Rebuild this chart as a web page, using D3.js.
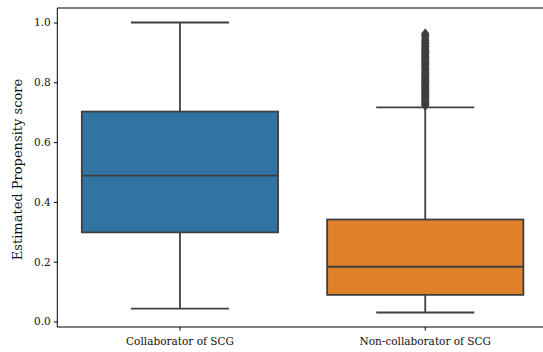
<!DOCTYPE html>
<html>
<head>
<meta charset="utf-8">
<script src="https://cdn.jsdelivr.net/npm/d3@7"></script>
<style>
  html, body { margin: 0; padding: 0; background: #fff; }
  svg { display: block; }
  text { font-family: "DejaVu Serif", "Liberation Serif", serif; fill: #111; }
</style>
</head>
<body>
<svg id="chart" width="543" height="352"></svg>
<script>
// Box summaries per group (estimated propensity score)
const categories = ["Collaborator of SCG", "Non-collaborator of SCG"];
const q1 = [0.298, 0.089];
const medians = [0.488, 0.183];
const q3 = [0.702, 0.341];
const whiskerLow = [0.043, 0.030];
const whiskerHigh = [1.000, 0.716];
const colors = ["#3274a1", "#e1812c"];

// Points beyond the upper whisker for the non-collaborator group
const outliersNonCollab = [
  0.722, 0.726, 0.729, 0.733, 0.737, 0.741, 0.744, 0.748, 0.752, 0.755,
  0.759, 0.762, 0.766, 0.770, 0.773, 0.777, 0.781, 0.784, 0.788, 0.792,
  0.795, 0.799, 0.803, 0.806, 0.810, 0.814, 0.818, 0.821, 0.825, 0.829,
  0.833, 0.838, 0.842, 0.847, 0.851, 0.855, 0.859, 0.863, 0.867, 0.871,
  0.875, 0.879, 0.883, 0.887, 0.891, 0.895, 0.899, 0.903, 0.907, 0.911,
  0.915, 0.919, 0.924, 0.929, 0.934, 0.940, 0.946, 0.953, 0.958, 0.963
];

const yTicks = [0.0, 0.2, 0.4, 0.6, 0.8, 1.0];
const yLabel = "Estimated Propensity score";

const svg = d3.select("#chart");
const plotLeft = 57.3, plotTop = 8, plotBottom = 327, plotRight = 547.9;
const lineColor = "#3f3f3f";

const x = d3.scaleBand().domain(categories).range([plotLeft, plotRight])
  .paddingInner(0.2).paddingOuter(0.1);
const y = d3.scaleLinear().domain([-0.0185, 1.0485]).range([plotBottom, plotTop]);

// Frame: left, top and bottom spines (right spine falls outside the canvas)
const spine = svg.append("g").attr("stroke", "#000").attr("stroke-width", 1).attr("fill", "none");
spine.append("line").attr("x1", plotLeft).attr("x2", plotLeft).attr("y1", plotTop).attr("y2", plotBottom);
spine.append("line").attr("x1", plotLeft).attr("x2", 543).attr("y1", plotTop).attr("y2", plotTop);
spine.append("line").attr("x1", plotLeft).attr("x2", 543).attr("y1", plotBottom).attr("y2", plotBottom);

// Y axis
const yAxis = svg.append("g").attr("transform", `translate(${plotLeft},0)`)
  .call(d3.axisLeft(y).tickValues(yTicks).tickFormat(d3.format(".1f")).tickSize(3.5).tickPadding(3));
yAxis.select(".domain").remove();
yAxis.selectAll(".tick line").attr("stroke", "#000").attr("stroke-width", 1);
yAxis.selectAll(".tick text").attr("font-family", "DejaVu Serif").attr("font-size", 10.5).attr("fill", "#111");

// X axis
const xAxis = svg.append("g").attr("transform", `translate(0,${plotBottom})`)
  .call(d3.axisBottom(x).tickSize(3.5).tickPadding(7));
xAxis.select(".domain").remove();
xAxis.selectAll(".tick line").attr("stroke", "#000").attr("stroke-width", 1);
xAxis.selectAll(".tick text").attr("font-family", "DejaVu Serif").attr("font-size", 10.5).attr("fill", "#111");

// Y axis title
svg.append("text")
  .attr("transform", `translate(22,${(plotTop + plotBottom) / 2 + 2}) rotate(-90)`)
  .attr("text-anchor", "middle")
  .attr("font-size", 13)
  .text(yLabel);

// Boxes
const bw = x.bandwidth();
categories.forEach((c, i) => {
  const cx = x(c) + bw / 2;
  const g = svg.append("g").attr("stroke", lineColor).attr("stroke-width", 1.8);
  // whiskers
  g.append("line").attr("x1", cx).attr("x2", cx).attr("y1", y(q3[i])).attr("y2", y(whiskerHigh[i]));
  g.append("line").attr("x1", cx).attr("x2", cx).attr("y1", y(q1[i])).attr("y2", y(whiskerLow[i]));
  // caps
  g.append("line").attr("x1", cx - bw / 4).attr("x2", cx + bw / 4).attr("y1", y(whiskerHigh[i])).attr("y2", y(whiskerHigh[i]));
  g.append("line").attr("x1", cx - bw / 4).attr("x2", cx + bw / 4).attr("y1", y(whiskerLow[i])).attr("y2", y(whiskerLow[i]));
  // box
  g.append("rect").attr("x", x(c)).attr("width", bw)
    .attr("y", y(q3[i])).attr("height", y(q1[i]) - y(q3[i]))
    .attr("fill", colors[i]);
  // median
  g.append("line").attr("x1", x(c)).attr("x2", x(c) + bw).attr("y1", y(medians[i])).attr("y2", y(medians[i]));
});

// Outlier markers (thin diamonds)
const cx2 = x(categories[1]) + bw / 2;
const diamond = "M0,-4.8L3.8,0L0,4.8L-3.8,0Z";
svg.append("g").selectAll("path").data(outliersNonCollab).join("path")
  .attr("d", diamond)
  .attr("transform", d => `translate(${cx2},${y(d)})`)
  .attr("fill", lineColor)
  .attr("stroke", lineColor)
  .attr("stroke-width", 0.6);
</script>
</body>
</html>
